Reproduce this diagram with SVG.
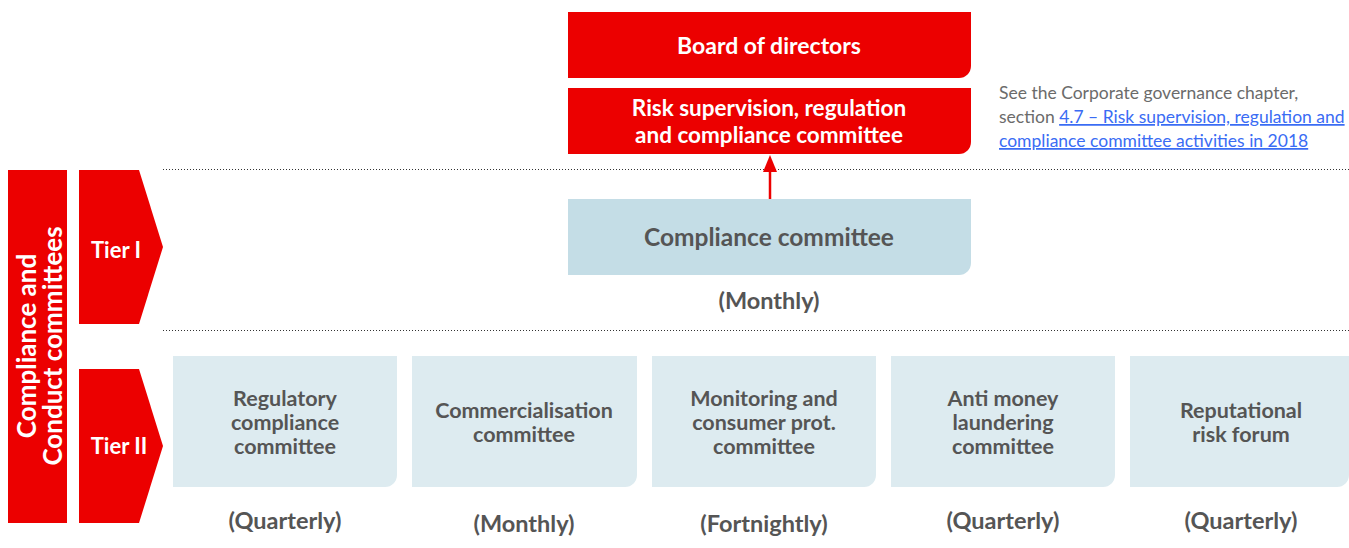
<svg xmlns="http://www.w3.org/2000/svg" width="1349" height="548" viewBox="0 0 1349 548">
<defs>
<style>
.red{fill:#ec0000}
.t1{fill:#c4dde6}
.t2{fill:#ddebf0}
.wt{font-family:Lato,"Open Sans",sans-serif;font-weight:700;fill:#fff;text-anchor:middle}
.gt{font-family:Lato,"Open Sans",sans-serif;font-weight:700;fill:#555;text-anchor:middle}
.bt{font-size:21.5px}
.fq{font-size:23.5px}
.note{font-family:Lato,"Open Sans",sans-serif;font-size:17.5px;fill:#6b6b6b}
.lnk{fill:#3a6cf4;text-decoration:underline}
.dot{stroke:#333;stroke-width:1;stroke-dasharray:1 2;fill:none}
</style>
</defs>
<rect width="1349" height="548" fill="#fff"/>
<g id="separators">
<line class="dot" x1="163" y1="169.5" x2="1349" y2="169.5"/>
<line class="dot" x1="163" y1="330.5" x2="1349" y2="330.5"/>
</g>
<g id="side-label">
<rect class="red" x="8" y="170" width="59" height="353"/>
<text class="wt" font-size="26" transform="translate(36,346) rotate(-90)">Compliance and</text>
<text class="wt" font-size="26" transform="translate(62,346) rotate(-90)">Conduct committees</text>
</g>
<g id="tier1">
<polygon class="red" points="79,170 139,170 163,247 139,324 79,324"/>
<text class="wt" font-size="22" x="116" y="258">Tier I</text>
</g>
<g id="tier2">
<polygon class="red" points="79,369 139,369 163,446 139,523 79,523"/>
<text class="wt" font-size="22" x="119" y="454">Tier II</text>
</g>
<g id="board">
<path class="red" d="M568 12H971V66A12 12 0 0 1 959 78H568Z"/>
<text class="wt" font-size="23" x="769" y="54">Board of directors</text>
</g>
<g id="risk-committee">
<path class="red" d="M568 88H971V142A12 12 0 0 1 959 154H568Z"/>
<text class="wt" font-size="22.5" x="769" y="116">Risk supervision, regulation</text>
<text class="wt" font-size="22.5" x="769" y="143">and compliance committee</text>
</g>
<g id="note">
<text class="note" x="999" y="99">See the Corporate governance chapter,</text>
<text class="note" x="999" y="123">section <tspan class="lnk">4.7 – Risk supervision, regulation and</tspan></text>
<text class="note lnk" x="999" y="147">compliance committee activities in 2018</text>
</g>
<g id="connectors">
<line x1="770" y1="199" x2="770" y2="170" stroke="#ec0000" stroke-width="2.5"/>
<polygon class="red" points="770,155 763,172 777,172"/>
</g>
<g id="compliance-committee">
<path class="t1" d="M568 199H971V263A12 12 0 0 1 959 275H568Z"/>
<text class="gt" font-size="24.5" x="769" y="246">Compliance committee</text>
<text class="gt fq" x="769" y="309">(Monthly)</text>
</g>
<g id="regulatory">
<path class="t2" d="M173 356H397V475A12 12 0 0 1 385 487H173Z"/>
<text class="gt bt" x="285" y="406">Regulatory</text>
<text class="gt bt" x="285" y="430">compliance</text>
<text class="gt bt" x="285" y="454">committee</text>
<text class="gt fq" x="285" y="529">(Quarterly)</text>
</g>
<g id="commercialisation">
<path class="t2" d="M412 356H637V475A12 12 0 0 1 625 487H412Z"/>
<text class="gt bt" x="524" y="418">Commercialisation</text>
<text class="gt bt" x="524" y="442">committee</text>
<text class="gt fq" x="524" y="532">(Monthly)</text>
</g>
<g id="monitoring">
<path class="t2" d="M652 356H876V475A12 12 0 0 1 864 487H652Z"/>
<text class="gt bt" x="764" y="406">Monitoring and</text>
<text class="gt bt" x="764" y="430">consumer prot.</text>
<text class="gt bt" x="764" y="454">committee</text>
<text class="gt fq" x="764" y="532">(Fortnightly)</text>
</g>
<g id="aml">
<path class="t2" d="M891 356H1115V475A12 12 0 0 1 1103 487H891Z"/>
<text class="gt bt" x="1003" y="406">Anti money</text>
<text class="gt bt" x="1003" y="430">laundering</text>
<text class="gt bt" x="1003" y="454">committee</text>
<text class="gt fq" x="1003" y="529">(Quarterly)</text>
</g>
<g id="reputational">
<path class="t2" d="M1130 356H1349V475A12 12 0 0 1 1337 487H1130Z"/>
<text class="gt bt" x="1241" y="418">Reputational</text>
<text class="gt bt" x="1241" y="442">risk forum</text>
<text class="gt fq" x="1241" y="529">(Quarterly)</text>
</g>
</svg>
